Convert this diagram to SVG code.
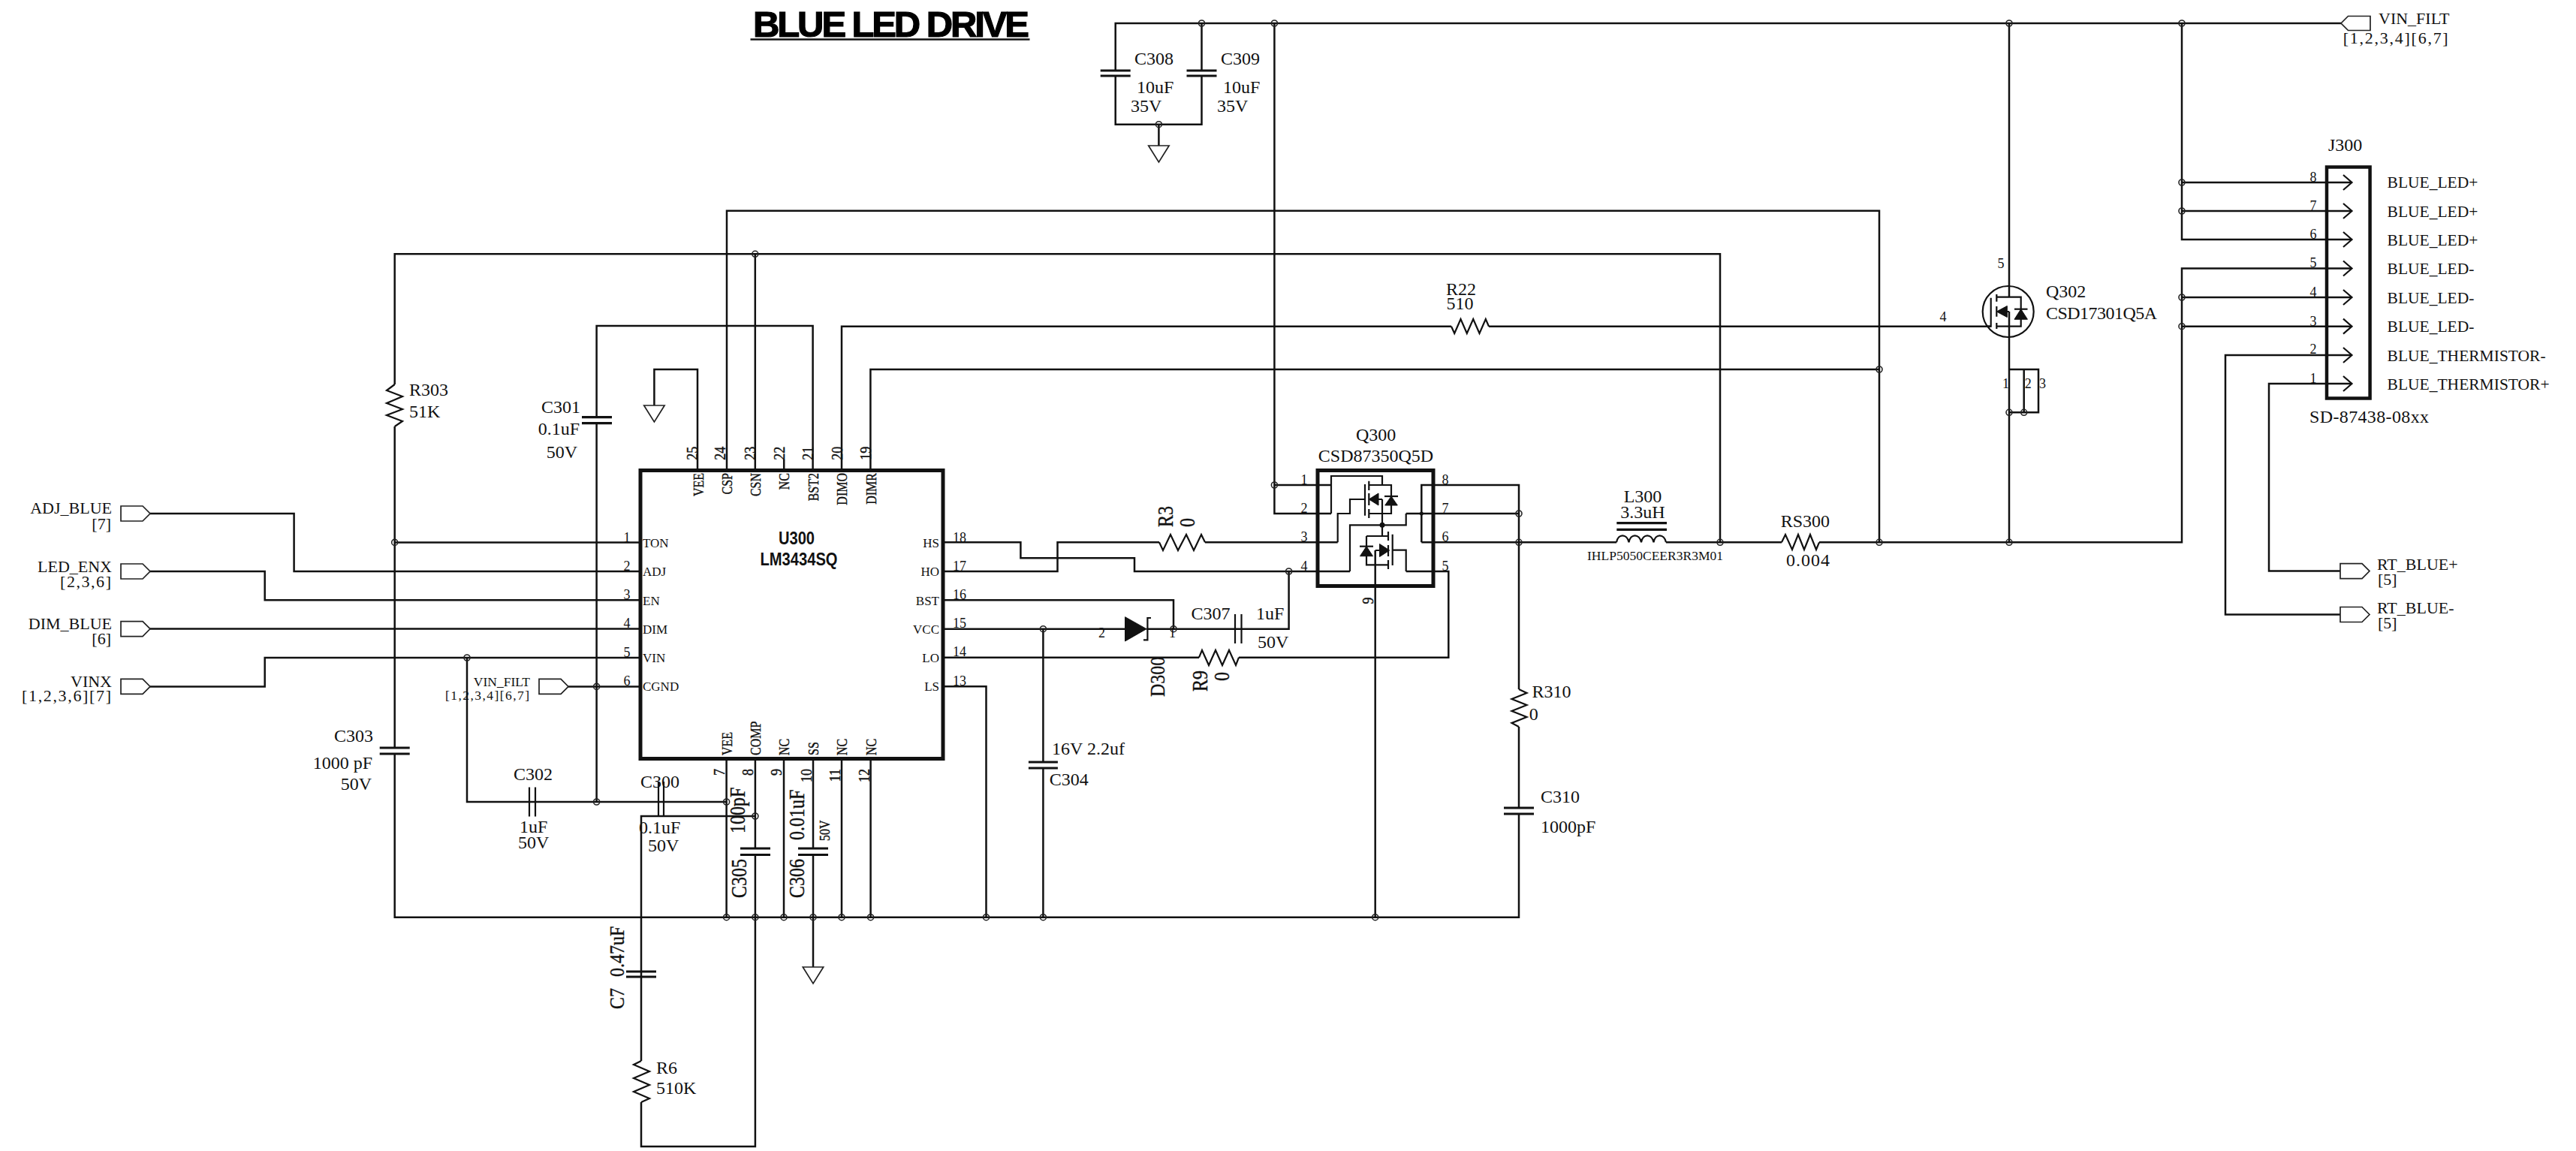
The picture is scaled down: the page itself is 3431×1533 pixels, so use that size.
<svg xmlns="http://www.w3.org/2000/svg" width="3431" height="1533" viewBox="0 0 3431 1533">
<defs>
<style>
text{font-family:"Liberation Serif","Times New Roman",serif;fill:#111;white-space:pre}
text[transform]{stroke:#111;stroke-width:.35}
.w,.s{fill:none;stroke:#111;stroke-width:2.5;stroke-linejoin:miter}
.s{stroke-width:2.2}
.t{stroke-width:1.7;fill:#fff;stroke:#222}
.p{fill:none;stroke:#111;stroke-width:3.2}
.b{fill:none;stroke:#111;stroke-width:5}
.f{fill:#111;stroke:#111;stroke-width:1}
.j{fill:none;stroke:#222;stroke-width:1.6}
.l{font-size:24px}.m{font-size:22px}.pn{font-size:18px}.pl{font-size:17px}
.sm{font-size:17.5px}
.e{text-anchor:end}.c{text-anchor:middle}
.title{font-family:"Liberation Sans",Arial,sans-serif;font-weight:700;font-size:49px;fill:#000;stroke:#000;stroke-width:1.2}
.ic{font-family:"Liberation Sans",Arial,sans-serif;font-weight:700;font-size:24px}
</style>
<circle id="jn" r="4" class="j"/>
<polygon id="gnd" points="-13.7,0 13.7,0 0,22" class="t"/>
<polygon id="offr" points="0,-10 29,-10 39,0 29,10 0,10" class="t"/>
<polygon id="offl" points="0,0 9.5,-9.5 39,-9.5 39,9.5 9.5,9.5" class="t"/>
<path id="chev" d="M-11.5,-10 L0,0 L-11.5,10" class="s"/>
</defs>
<rect width="3431" height="1533" fill="#fff"/>

<g id="title">
<text class="title" x="1003" y="49" textLength="368" lengthAdjust="spacing">BLUE LED DRIVE</text>
<path d="M999.5 52.5H1371.5" stroke="#111" stroke-width="2.5"/>
</g>

<g id="connectors">
<path class="w" d="M525.7 512V338.3H2291V722.3M525.7 568V996M525.7 1004V1221.7H2023V1084M2023 1076V968M2023 918V646H1893.3V722.3M525.7 722.4H853"/>
<path class="w" d="M200 684H391.6V761H853M200 761H352.7V799.3H853M200 837.6H853M200 914.4H352.7V876H853M757 914.4H853"/>
<path class="w" d="M1082.6 626V434H794.6V555.7M794.6 563.7V1068"/>
<path class="w" d="M622 876V1068H967.6M967.6 1010V1221.7M1005.9 1010V1130M1005.9 1138.5V1527H854V1468M854 1413V1087H1005.9"/>
<path class="w" d="M1044 1010V1221.7M1083 1010V1130M1083 1138.5V1288M1121 1010V1221.7M1159.6 1010V1221.7"/>
<path class="w" d="M968 626V280.7H2503V722.3M1005.8 626V338.3M1044.2 626V612M1121 626V434.7H1933M1983 434.7H2651.7M1159.4 626V492H2503M929 626V492H871.4V540"/>
<path class="w" d="M1256 722.3H1359.4V743.3H1511V761H1798M1256 761H1408.5V722.3H1544M1605 722.3H1781.7M1256 799.3H1563V837.7M1256 837.7H1498.5M1527 837.7H1716.6V761M1256 875.7H1597M1650 875.7H1929.3V761H1872.7M1256 914.3H1313.5V1221.7M1389.4 837.7V1015M1389.4 1023V1221.7"/>
<path class="w" d="M1697.4 31V684H1773M1697.4 646H1773M1872.7 684H2023M1893.3 722.3H2153M2219 722.3H2373M2423 722.3H2906V357.5H3132M1831.7 733V1221.7"/>
<path class="w" d="M1485.7 94V31H3118M1485.7 101V165.7H1600.5V101M1600.5 94V31M1543.4 165.7V194M2676 31V396M2676 415V722.3M2676 492H2715V549.3H2676M2695.7 492V549.3"/>
<path class="w" d="M2906 31V319H3132M2906 243H3132M2906 281H3132M2906 396H3132M2906 434.7H3132M3132 473H2964V818.5H3117M3132 511H3022V760.6H3117"/>
<g id="junctions">
<use href="#jn" x="525.7" y="722.4"/><use href="#jn" x="622" y="876"/><use href="#jn" x="794.6" y="914.4"/><use href="#jn" x="794.6" y="1068"/><use href="#jn" x="967.6" y="1068"/><use href="#jn" x="1005.9" y="1087"/><use href="#jn" x="1005.8" y="338.3"/>
<use href="#jn" x="967.6" y="1221.7"/><use href="#jn" x="1005.9" y="1221.7"/><use href="#jn" x="1044" y="1221.7"/><use href="#jn" x="1083" y="1221.7"/><use href="#jn" x="1121" y="1221.7"/><use href="#jn" x="1159.6" y="1221.7"/><use href="#jn" x="1313.5" y="1221.7"/><use href="#jn" x="1389.4" y="1221.7"/><use href="#jn" x="1831.7" y="1221.7"/>
<use href="#jn" x="1389.4" y="837.7"/><use href="#jn" x="1563" y="837.7"/><use href="#jn" x="1716.6" y="761"/><use href="#jn" x="1697.4" y="646"/><use href="#jn" x="2023" y="684"/><use href="#jn" x="2023" y="722.3"/><use href="#jn" x="2291" y="722.3"/><use href="#jn" x="2503" y="722.3"/><use href="#jn" x="2503" y="492"/>
<use href="#jn" x="2676" y="722.3"/><use href="#jn" x="2676" y="549.3"/><use href="#jn" x="2695.7" y="549.3"/><use href="#jn" x="1600.5" y="31"/><use href="#jn" x="1697.4" y="31"/><use href="#jn" x="1543.4" y="165.7"/><use href="#jn" x="2676" y="31"/><use href="#jn" x="2906" y="31"/>
<use href="#jn" x="2906" y="243"/><use href="#jn" x="2906" y="281"/><use href="#jn" x="2906" y="396"/><use href="#jn" x="2906" y="434.7"/>
</g>
</g>

<g id="U300">
<rect x="853" y="626.5" width="403" height="384" class="b"/>
<text class="ic c" x="1061" y="725" textLength="48" lengthAdjust="spacingAndGlyphs">U300</text>
<text class="ic c" x="1064" y="753" textLength="103" lengthAdjust="spacingAndGlyphs">LM3434SQ</text>
<g class="pl">
<text x="856" y="728.5">TON</text><text x="856" y="767">ADJ</text><text x="856" y="805.5">EN</text><text x="856" y="844">DIM</text><text x="856" y="882">VIN</text><text x="856" y="920">CGND</text>
<text class="e" x="1251" y="728.5">HS</text><text class="e" x="1251" y="767">HO</text><text class="e" x="1251" y="805.5">BST</text><text class="e" x="1251" y="844">VCC</text><text class="e" x="1251" y="882">LO</text><text class="e" x="1251" y="920">LS</text>
</g>
<g class="pn">
<text class="c" x="835" y="722">1</text><text class="c" x="835" y="760">2</text><text class="c" x="835" y="798">3</text><text class="c" x="835" y="836">4</text><text class="c" x="835" y="875">5</text><text class="c" x="835" y="913">6</text>
<text x="1269" y="722">18</text><text x="1269" y="760">17</text><text x="1269" y="798">16</text><text x="1269" y="836">15</text><text x="1269" y="874">14</text><text x="1269" y="913">13</text>
</g>
<g>
<text font-size="16" class="e" transform="translate(936.5,630) rotate(-90) scale(1,1.22)">VEE</text>
<text font-size="16" class="e" transform="translate(975,630) rotate(-90) scale(1,1.22)">CSP</text>
<text font-size="16" class="e" transform="translate(1013,630) rotate(-90) scale(1,1.22)">CSN</text>
<text font-size="16" class="e" transform="translate(1051,630) rotate(-90) scale(1,1.22)">NC</text>
<text font-size="16" class="e" transform="translate(1090,630) rotate(-90) scale(1,1.22)">BST2</text>
<text font-size="16" class="e" transform="translate(1128,630) rotate(-90) scale(1,1.22)">DIMO</text>
<text font-size="16" class="e" transform="translate(1166.5,630) rotate(-90) scale(1,1.22)">DIMR</text>
<text font-size="16" transform="translate(975,1006) rotate(-90) scale(1,1.22)">VEE</text>
<text font-size="16" transform="translate(1013,1006) rotate(-90) scale(1,1.22)">COMP</text>
<text font-size="16" transform="translate(1051,1006) rotate(-90) scale(1,1.22)">NC</text>
<text font-size="16" transform="translate(1090,1006) rotate(-90) scale(1,1.22)">SS</text>
<text font-size="16" transform="translate(1128,1006) rotate(-90) scale(1,1.22)">NC</text>
<text font-size="16" transform="translate(1167,1006) rotate(-90) scale(1,1.22)">NC</text>
</g>
<g>
<text class="pn" transform="translate(929,612.7) rotate(-90) scale(1,1.15)">25</text>
<text class="pn" transform="translate(966,612.7) rotate(-90) scale(1,1.15)">24</text>
<text class="pn" transform="translate(1006,612.7) rotate(-90) scale(1,1.15)">23</text>
<text class="pn" transform="translate(1045,612.7) rotate(-90) scale(1,1.15)">22</text>
<text class="pn" transform="translate(1083,612.7) rotate(-90) scale(1,1.15)">21</text>
<text class="pn" transform="translate(1122,612.7) rotate(-90) scale(1,1.15)">20</text>
<text class="pn" transform="translate(1160,612.7) rotate(-90) scale(1,1.15)">19</text>
<text class="pn e" transform="translate(964.5,1024) rotate(-90) scale(1,1.15)">7</text>
<text class="pn e" transform="translate(1003,1024) rotate(-90) scale(1,1.15)">8</text>
<text class="pn e" transform="translate(1041,1024) rotate(-90) scale(1,1.15)">9</text>
<text class="pn e" transform="translate(1081,1024) rotate(-90) scale(1,1.15)">10</text>
<text class="pn e" transform="translate(1119,1024) rotate(-90) scale(1,1.15)">11</text>
<text class="pn e" transform="translate(1157.5,1024) rotate(-90) scale(1,1.15)">12</text>
</g>
</g>

<g id="ADJ_BLUE"><use href="#offr" x="161" y="684"/><text class="m e" x="149" y="684">ADJ_BLUE</text><text class="m e" x="148" y="704.5">[7]</text></g>
<g id="LED_ENX"><use href="#offr" x="161" y="761"/><text class="m e" x="149" y="762">LED_ENX</text><text class="m e" x="148" y="782" textLength="68" lengthAdjust="spacing">[2,3,6]</text></g>
<g id="DIM_BLUE"><use href="#offr" x="161" y="837.6"/><text class="m e" x="149" y="838">DIM_BLUE</text><text class="m e" x="148" y="858">[6]</text></g>
<g id="VINX"><use href="#offr" x="161" y="914.4"/><text class="m e" x="149" y="914.6">VINX</text><text class="m e" x="148" y="934" textLength="119" lengthAdjust="spacing">[1,2,3,6][7]</text></g>
<g id="VIN_FILT_L"><use href="#offr" x="718" y="914.4"/><text class="sm e" x="706" y="913.6">VIN_FILT</text><text class="sm e" x="705" y="932" textLength="112" lengthAdjust="spacing">[1,2,3,4][6,7]</text></g>
<g id="VIN_FILT_R"><use href="#offl" x="3118" y="31"/><text class="m" x="3168" y="31.7">VIN_FILT</text><text class="m" x="3120.7" y="57.5" textLength="140" lengthAdjust="spacing">[1,2,3,4][6,7]</text></g>
<g id="RT_BLUE_P"><use href="#offr" x="3117" y="760.6"/><text class="m" x="3166" y="759">RT_BLUE+</text><text class="m" x="3167" y="779">[5]</text></g>
<g id="RT_BLUE_N"><use href="#offr" x="3117" y="818.5"/><text class="m" x="3166" y="817">RT_BLUE-</text><text class="m" x="3167" y="836.5">[5]</text></g>

<g id="R303"><polyline class="s" points="525.7,512 515,520 536,528 515,537 536,545 515,553 536,561 525.7,568"/><text class="l" x="545" y="526.7">R303</text><text class="l" x="545" y="556">51K</text></g>
<g id="C303"><path class="p" d="M505.7 996H545.7M505.7 1004H545.7"/><text class="l e" x="497" y="988">C303</text><text class="l e" x="496" y="1023.6">1000 pF</text><text class="l e" x="495" y="1052">50V</text></g>
<g id="C301"><path class="p" d="M775 555.7H815M775 563.7H815"/><text class="l e" x="773" y="550">C301</text><text class="l e" x="772" y="579">0.1uF</text><text class="l e" x="769" y="610">50V</text></g>
<g id="GND1"><use href="#gnd" x="871.4" y="540"/></g>
<g id="C302"><path class="s" d="M705 1048.5V1087.5M713 1048.5V1087.5"/><text class="l" x="684" y="1038.6">C302</text><text class="l" x="692" y="1109">1uF</text><text class="l" x="690" y="1130">50V</text></g>
<g id="C300"><path class="s" d="M877 1041V1087.5M884 1041V1087.5"/><text class="l" x="853" y="1048.5">C300</text><text class="l" x="851" y="1110">0.1uF</text><text class="l" x="863" y="1134">50V</text></g>
<g id="C305"><path class="p" d="M986 1130H1026M986 1138.5H1026"/><text class="l" transform="translate(992,1110) rotate(-90) scale(1,1.2)">100pF</text><text class="l" transform="translate(994,1196) rotate(-90) scale(1,1.2)">C305</text></g>
<g id="C306"><path class="p" d="M1063 1130H1103M1063 1138.5H1103"/><text class="l" transform="translate(1071,1119) rotate(-90) scale(1,1.2)">0.01uF</text><text class="l" transform="translate(1071,1196) rotate(-90) scale(1,1.2)">C306</text><text font-size="16" transform="translate(1105,1120) rotate(-90) scale(1,1.2)">50V</text></g>
<g id="GND2"><use href="#gnd" x="1083" y="1288"/></g>
<g id="C7"><path class="p" d="M834 1294H874M834 1301H874"/><text class="l" transform="translate(831,1301) rotate(-90) scale(1,1.15)">0.47uF</text><text class="l" transform="translate(830.5,1344) rotate(-90) scale(1,1.15)">C7</text></g>
<g id="R6"><polyline class="s" points="854,1413 844,1418 865,1427 844,1436 865,1445 844,1454 865,1463 854,1468"/><text class="l" x="874" y="1429.5">R6</text><text class="l" x="874" y="1457">510K</text></g>

<g id="C308"><path class="p" d="M1465.7 94H1505.7M1465.7 101H1505.7"/><text class="l" x="1511" y="86">C308</text><text class="l" x="1514" y="124">10uF</text><text class="l" x="1506" y="149">35V</text></g>
<g id="C309"><path class="p" d="M1580.5 94H1620.5M1580.5 101H1620.5"/><text class="l" x="1626" y="86">C309</text><text class="l" x="1629" y="124">10uF</text><text class="l" x="1621" y="149">35V</text></g>
<g id="GND3"><use href="#gnd" x="1543.4" y="194"/></g>

<g id="R22"><polyline class="s" points="1933,434.7 1937.2,444 1945.5,425 1953.8,444 1962.2,425 1970.5,444 1978.8,425 1983,434.7"/><text class="l" x="1926" y="392.7">R22</text><text class="l" x="1926.5" y="412.3">510</text></g>
<g id="R3"><polyline class="s" points="1544,722.3 1549,733 1559,712 1569,733 1580,712 1590,733 1600,712 1605,722.3"/><text class="l" transform="translate(1562,702) rotate(-90) scale(1,1.2)">R3</text><text class="l" transform="translate(1591,702) rotate(-90) scale(1,1.2)">0</text></g>
<g id="R9"><polyline class="s" points="1597,875.7 1601,866 1610,886 1619,866 1628,886 1637,866 1646,886 1650,875.7"/><text class="l" transform="translate(1608,921) rotate(-90) scale(1,1.2)">R9</text><text class="l" transform="translate(1637,907) rotate(-90) scale(1,1.2)">0</text></g>
<g id="D300"><polygon class="f" points="1498.5,821.7 1498.5,854 1527,837.7"/><path class="s" d="M1533 823H1528.4V852.3H1523"/><text class="pn" x="1463" y="849">2</text><text class="pn" x="1557" y="849">1</text><text class="l" transform="translate(1551,928) rotate(-90) scale(1,1.15)">D300</text></g>
<g id="C307"><path class="s" d="M1645 818V857M1653.5 818V857"/><text class="l" x="1586.5" y="825">C307</text><text class="l" x="1673" y="825">1uF</text><text class="l" x="1675" y="862.7">50V</text></g>
<g id="C304"><path class="p" d="M1369.9 1015H1408.9M1369.9 1023H1408.9"/><text class="l" x="1401" y="1005">16V 2.2uf</text><text class="l" x="1397.7" y="1046">C304</text></g>

<g id="Q300">
<rect x="1755" y="626.5" width="154" height="154" class="b"/>
<path class="s" d="M1773 646V684M1773 646V634H1841V646M1823.3 646H1853V684H1823.3M1818 645V686.7M1823.3 640.7V653M1823.3 657V673M1823.3 678V690M1818 665H1798V684H1781.7V722.3M1841 665V714M1836 665H1841"/>
<polygon class="f" points="1823.3,665 1836,657 1836,673"/>
<polygon class="f" points="1853,661 1844.7,673 1861.3,673"/><path class="s" d="M1844 661H1862"/>
<path class="s" d="M1798 761V699.3H1872.7V684M1841 714H1849M1820 714V752.3H1849M1820 714H1841M1849 708V720M1849 726V741M1849 746V758M1854.7 711.7V753M1854.7 732.7H1872.7V761M1831.7 733H1838"/>
<polygon class="f" points="1850.7,733 1837.5,724.5 1837.5,741.5"/>
<polygon class="f" points="1820,727.7 1811.5,740.7 1828.5,740.7"/><path class="s" d="M1811 727.7H1829"/>
<circle cx="1841" cy="699.3" r="3.5" fill="#111"/><circle cx="1893.3" cy="684" r="2.5" fill="#111"/>
<text class="l c" x="1832.7" y="587">Q300</text><text class="l c" x="1832.5" y="615">CSD87350Q5D</text>
<g class="pn"><text class="c" x="1737" y="645">1</text><text class="c" x="1737" y="683">2</text><text class="c" x="1737" y="721">3</text><text class="c" x="1737" y="760">4</text><text class="c" x="1925" y="645">8</text><text class="c" x="1925" y="683">7</text><text class="c" x="1925" y="721">6</text><text class="c" x="1925" y="760">5</text></g>
<text class="pn" transform="translate(1829,804.5) rotate(-90) scale(1,1.2)">9</text>
</g>

<g id="R310"><polyline class="s" points="2023,918 2033.5,923 2013.5,931 2033.5,939 2013.5,947 2033.5,955 2013.5,963 2023,968"/><text class="l" x="2040.6" y="929.3">R310</text><text class="l" x="2036.7" y="959">0</text></g>
<g id="C310"><path class="p" d="M2003 1076H2043M2003 1084H2043"/><text class="l" x="2052" y="1069">C310</text><text class="l" x="2052" y="1109">1000pF</text></g>

<g id="L300">
<path class="p" d="M2153.3 696.7H2220M2153.3 705.3H2220"/>
<path class="s" d="M2153 722.3c2-12 14-12 16.5 0c2-12 14-12 16.5 0c2-12 14-12 16.5 0c2-12 14-12 16.5 0"/>
<text class="l c" x="2188" y="669.3">L300</text><text class="l" x="2158.3" y="690">3.3uH</text><text class="sm" x="2114" y="746" textLength="181" lengthAdjust="spacing">IHLP5050CEER3R3M01</text>
</g>
<g id="RS300"><polyline class="s" points="2373,722.3 2378,712 2387,732 2395,712 2403,732 2411,712 2419,732 2423,722.3"/><text class="l" x="2371.7" y="702.3">RS300</text><text class="l" x="2379" y="754" textLength="58" lengthAdjust="spacing">0.004</text></g>

<g id="Q302">
<circle cx="2674.7" cy="415" r="34" class="s"/>
<path class="s" d="M2651.7 396.7V434.7H2646M2659.3 392V401.7M2659.3 408V421.7M2659.3 430V438M2659.3 395.7H2691.7V434.7H2659.3M2673 415H2676"/>
<polygon class="f" points="2659.3,415 2673.3,407.5 2673.3,422.5"/>
<polygon class="f" points="2691.7,411.7 2683,425.3 2700.4,425.3"/><path class="s" d="M2683 411.7H2700.5"/>
<text class="l" x="2725" y="395.7">Q302</text><text class="l" x="2725" y="425" textLength="148" lengthAdjust="spacing">CSD17301Q5A</text>
<g class="pn"><text class="c" x="2665" y="356.6">5</text><text class="c" x="2588" y="427.8">4</text><text x="2667" y="516.7">1</text><text x="2696.7" y="516.7">2</text><text x="2716" y="516.7">3</text></g>
</g>

<g id="J300">
<rect x="3099" y="222.5" width="57.6" height="308" class="b" style="stroke-width:4.5"/>
<use href="#chev" x="3132.5" y="243"/><use href="#chev" x="3132.5" y="281"/><use href="#chev" x="3132.5" y="319"/><use href="#chev" x="3132.5" y="357.5"/><use href="#chev" x="3132.5" y="396"/><use href="#chev" x="3132.5" y="434.7"/><use href="#chev" x="3132.5" y="473"/><use href="#chev" x="3132.5" y="511"/>
<text class="l" x="3101" y="201.4">J300</text>
<g class="pn"><text class="c" x="3081" y="242">8</text><text class="c" x="3081" y="280">7</text><text class="c" x="3081" y="318">6</text><text class="c" x="3081" y="356">5</text><text class="c" x="3081" y="395">4</text><text class="c" x="3081" y="434">3</text><text class="c" x="3081" y="471">2</text><text class="c" x="3081" y="510">1</text></g>
<g style="font-size:21.5px"><text x="3179.6" y="250">BLUE_LED+</text><text x="3179.6" y="288.5">BLUE_LED+</text><text x="3179.6" y="326.5">BLUE_LED+</text><text x="3179.6" y="365">BLUE_LED-</text><text x="3179.6" y="403.5">BLUE_LED-</text><text x="3179.6" y="441.5">BLUE_LED-</text><text x="3179.6" y="480.5">BLUE_THERMISTOR-</text><text x="3179.6" y="518.5">BLUE_THERMISTOR+</text></g>
<text class="l" x="3076" y="563" textLength="159" lengthAdjust="spacing">SD-87438-08xx</text>
</g>
</svg>
